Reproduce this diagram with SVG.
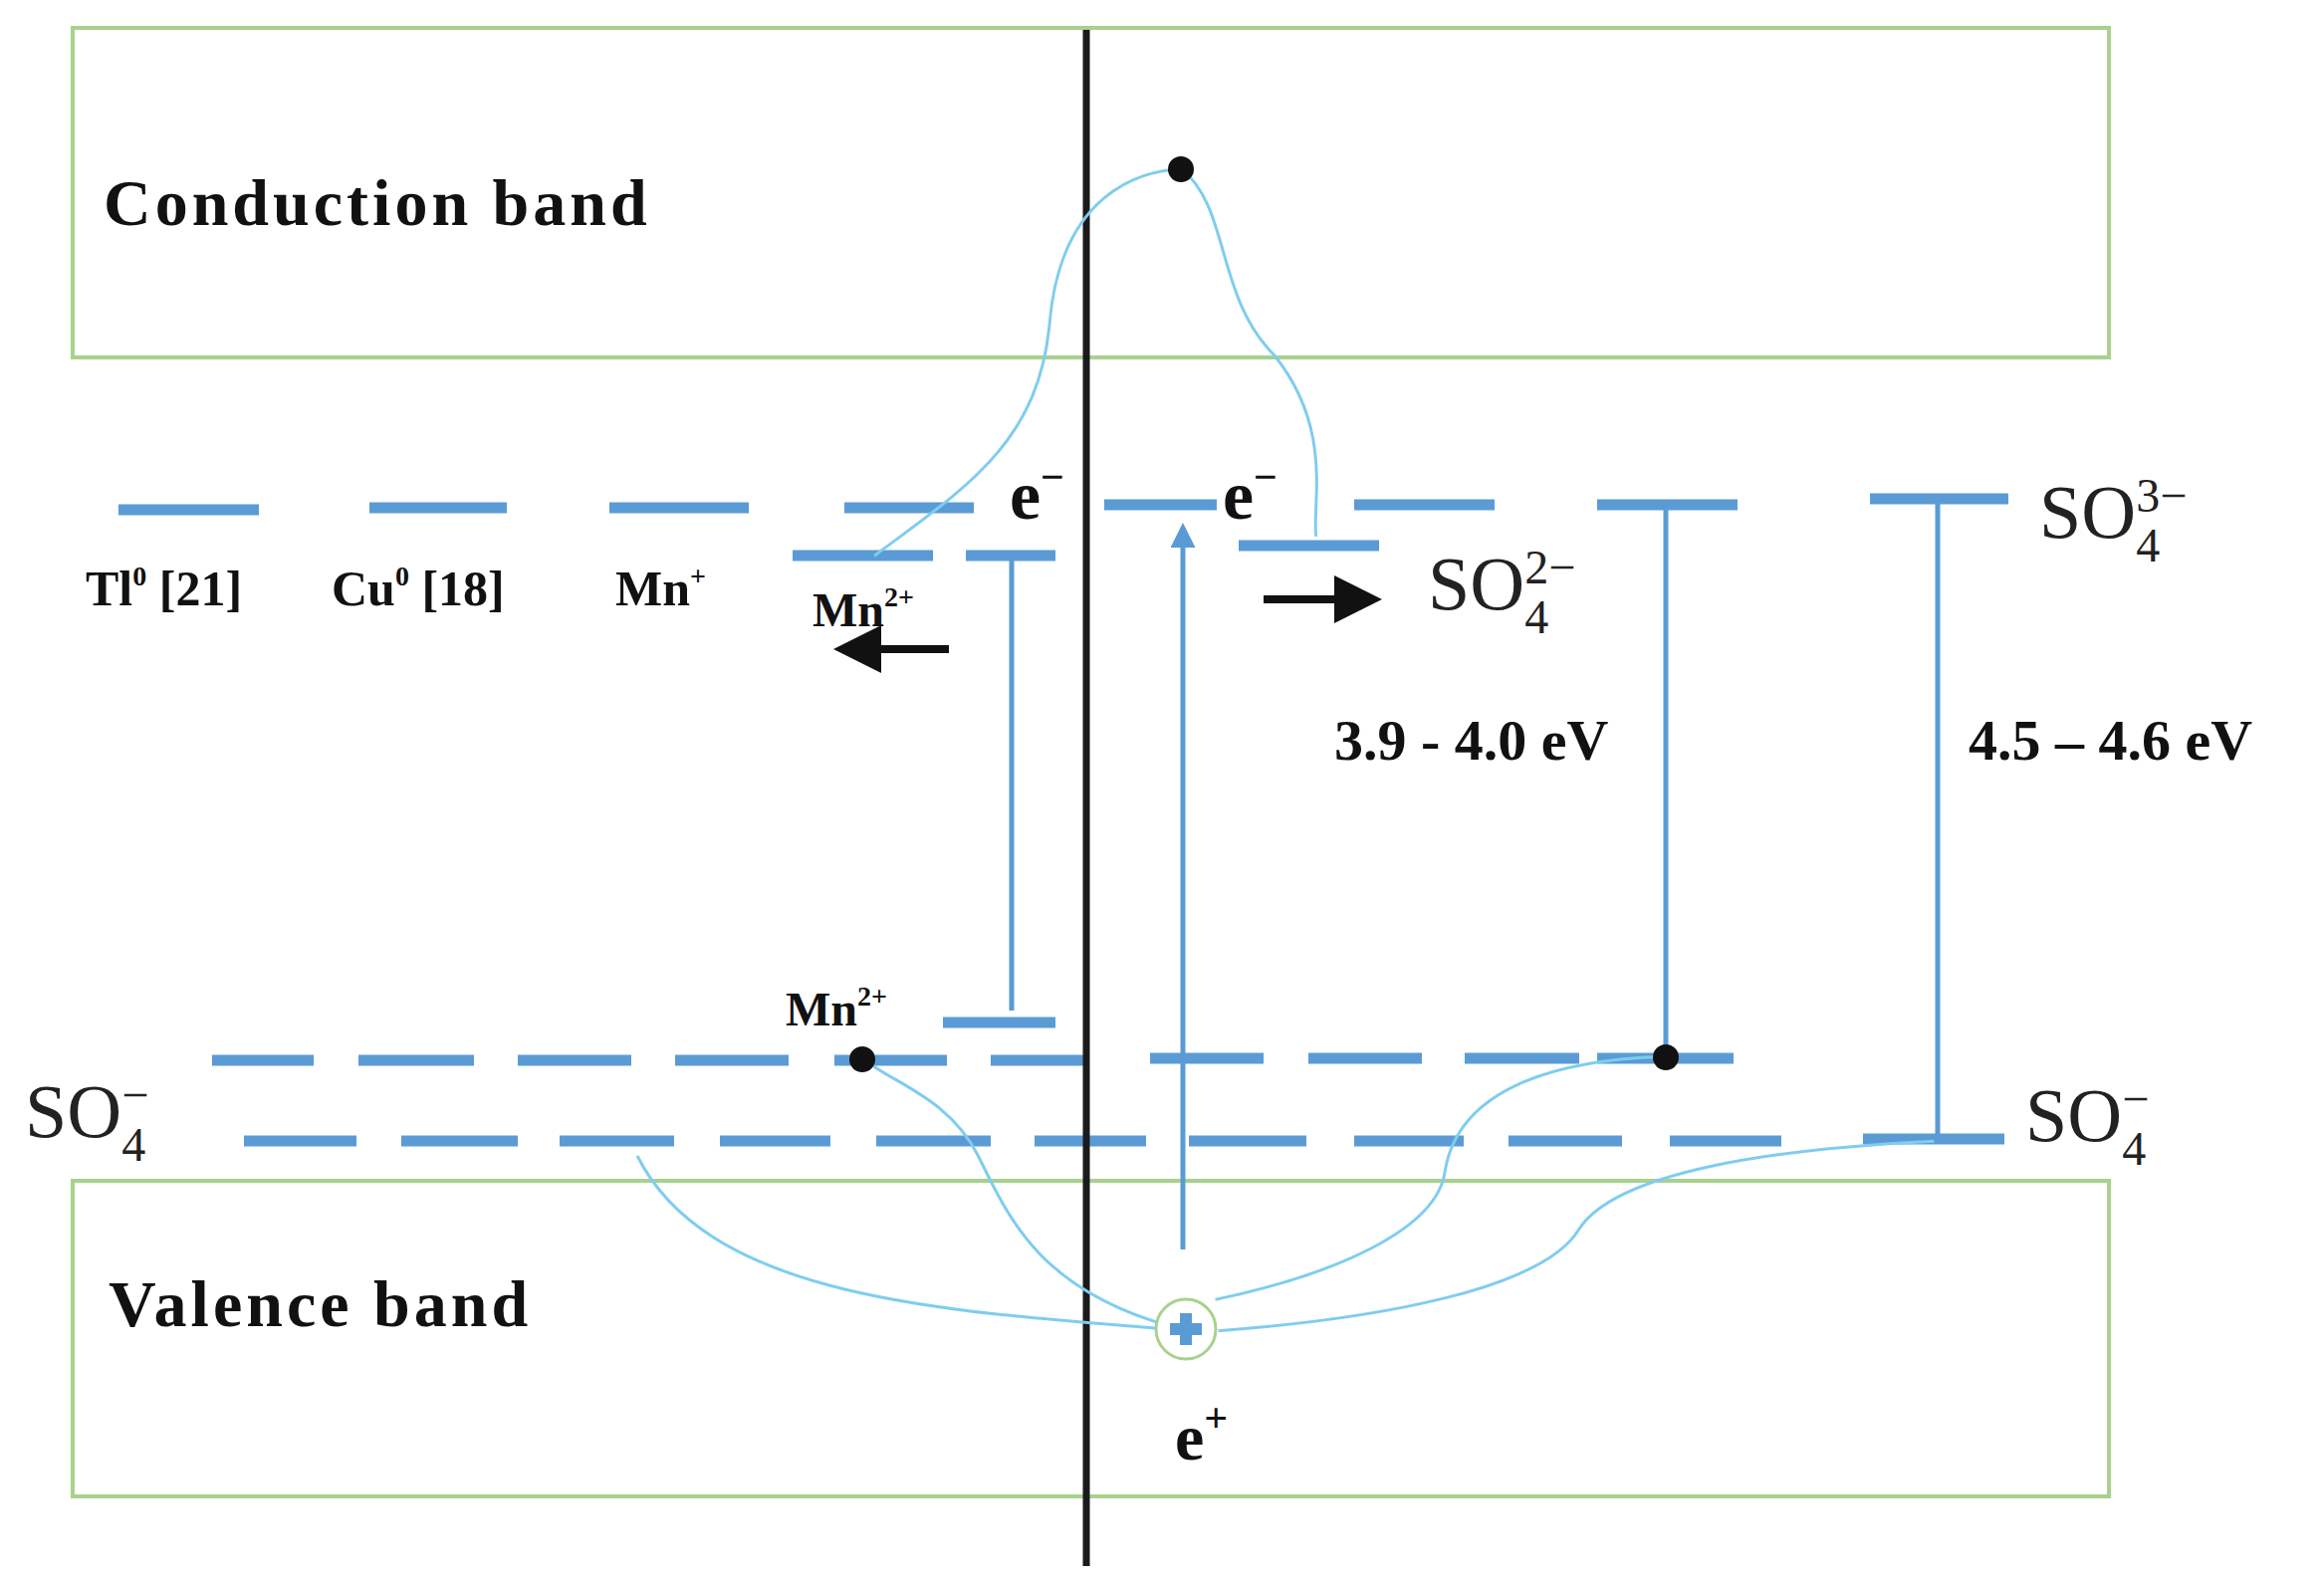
<svg xmlns="http://www.w3.org/2000/svg" width="2334" height="1591" viewBox="0 0 2334 1591">
<style>
.band{fill:none;stroke:#a9d18e;stroke-width:4}
.lvl{stroke:#5b9bd5;stroke-width:11}
.vl{stroke:#5b9bd5;stroke-width:5;fill:none}
.cv{fill:none;stroke:#7fcdee;stroke-width:2}
.lb{font-family:"Liberation Serif",serif;font-weight:bold;fill:#111}
.so{font-family:"Liberation Serif",serif;fill:#222;font-size:76px}
</style>
<defs>
<marker id="ah" markerWidth="6" markerHeight="6" refX="5" refY="3" orient="auto" markerUnits="strokeWidth"><path d="M0,0 L6,3 L0,6 z" fill="#111"/></marker>
<marker id="bh" markerWidth="5" markerHeight="5" refX="4" refY="2.5" orient="auto" markerUnits="strokeWidth"><path d="M0,0 L5,2.5 L0,5 z" fill="#5b9bd5"/></marker>
</defs>
<g id="conduction"><rect class="band" x="73" y="28" width="2045" height="331"/><text class="lb" x="104" y="226" font-size="66" letter-spacing="4">Conduction band</text></g>
<g id="valence"><rect class="band" x="73" y="1186" width="2045" height="317"/><text class="lb" x="109" y="1332" font-size="66" letter-spacing="4">Valence band</text></g>
<g id="levels">
<path class="lvl" d="M119,512H260M371,510H509M612,510H752M848,510H978M1109,507H1222M1360,507H1501M1604,507H1745M1878,501H2017"/>
<path class="lvl" d="M796,558H937M970,558H1060M1244,548H1385M947,1027H1060"/>
<path class="lvl" d="M213,1065H315M360,1065H476M520,1065H634M678,1065H792M838,1065H951M995,1065H1094M1155,1063H1269M1314,1063H1428M1471,1063H1586M1604,1063H1741"/>
<path class="lvl" d="M245,1146H358M403,1146H520M562,1146H677M723,1146H834M880,1146H995M1039,1146H1151M1194,1146H1312M1360,1146H1470M1515,1146H1629M1677,1146H1789M1871,1144H2013"/>
</g>
<g id="connectors">
<line x1="1091" y1="30" x2="1091" y2="1573" stroke="#1a1a1a" stroke-width="7"/>
<line class="vl" x1="1016" y1="558" x2="1016" y2="1015"/>
<line class="vl" x1="1673" y1="507" x2="1673" y2="1063"/>
<line class="vl" x1="1946" y1="501" x2="1946" y2="1144"/>
<line class="vl" x1="1188" y1="1255" x2="1188" y2="530" marker-end="url(#bh)"/>
<line x1="1269" y1="602" x2="1380" y2="602" stroke="#111" stroke-width="8" marker-end="url(#ah)"/>
<line x1="953" y1="652" x2="845" y2="652" stroke="#111" stroke-width="8" marker-end="url(#ah)"/>
<g transform="scale(1.4885)">
<path class="cv" d="M590,375 C650,330 700,300 708,220 C715,130 770,115 797,114"/>
<path class="cv" d="M797,114 C830,140 820,200 860,240 C900,290 885,340 888,362"/>
<path class="cv" d="M790,897 C650,885 480,880 430,780"/>
<path class="cv" d="M790,895 C700,870 680,820 660,780 C640,740 600,730 582,714"/>
<path class="cv" stroke="#a8c8ea" d="M820,877 C900,860 970,830 975,790 C985,730 1060,715 1122,713"/>
<path class="cv" stroke="#a8c8ea" d="M822,898 C930,890 1040,870 1065,830 C1090,790 1200,775 1305,770"/>
</g>
<circle cx="1186" cy="170" r="13" fill="#111"/>
<circle cx="866" cy="1064" r="13" fill="#111"/>
<circle cx="1673" cy="1062" r="13" fill="#111"/>
</g>
<g id="hole"><circle cx="1191" cy="1335" r="30" fill="#fff" stroke="#a9d18e" stroke-width="3"/><path d="M1175,1335H1207M1191,1319V1351" stroke="#5b9bd5" stroke-width="12"/>
<text class="lb" x="1180" y="1466" font-size="66">e<tspan font-size="42" dy="-28">+</tspan></text></g>
<g id="labels">
<text class="lb" x="86" y="608" font-size="50">Tl<tspan font-size="28" dy="-20">0</tspan><tspan dy="20"> [21]</tspan></text>
<text class="lb" x="333" y="608" font-size="50">Cu<tspan font-size="28" dy="-20">0</tspan><tspan dy="20"> [18]</tspan></text>
<text class="lb" x="618" y="608" font-size="50">Mn<tspan font-size="28" dy="-20">+</tspan></text>
<text class="lb" x="816" y="629" font-size="48">Mn<tspan font-size="28" dy="-20">2+</tspan></text>
<text class="lb" x="789" y="1030" font-size="48">Mn<tspan font-size="28" dy="-20">2+</tspan></text>
<text class="lb" x="1014" y="521" font-size="70" font-weight="normal">e<tspan font-size="42" dy="-28">−</tspan></text>
<text class="lb" x="1228" y="521" font-size="70" font-weight="normal">e<tspan font-size="42" dy="-28">−</tspan></text>
<text class="lb" x="1340" y="763" font-size="58">3.9 - 4.0 eV</text>
<text class="lb" x="1977" y="763" font-size="58">4.5 – 4.6 eV</text>
<text class="so" x="1434" y="612">SO<tspan font-size="48" dy="24">4</tspan><tspan font-size="48" dx="-24" dy="-50">2−</tspan></text>
<text class="so" x="2048" y="540">SO<tspan font-size="48" dy="24">4</tspan><tspan font-size="48" dx="-24" dy="-50">3−</tspan></text>
<text class="so" x="2034" y="1146">SO<tspan font-size="48" dy="24">4</tspan><tspan font-size="48" dx="-24" dy="-50">−</tspan></text>
<text class="so" x="25" y="1142">SO<tspan font-size="48" dy="24">4</tspan><tspan font-size="48" dx="-24" dy="-50">−</tspan></text>
</g>
</svg>
